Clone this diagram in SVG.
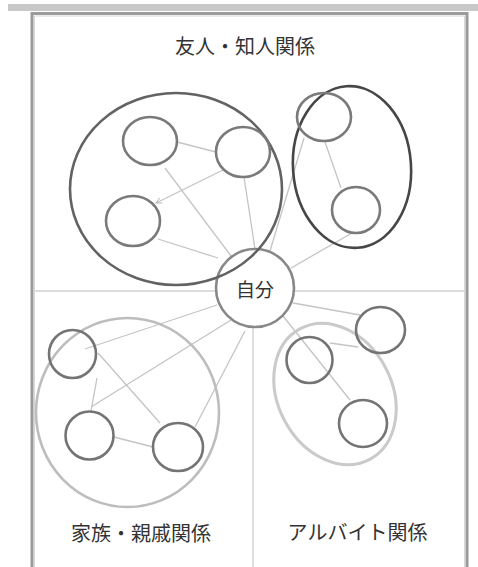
<svg xmlns="http://www.w3.org/2000/svg" width="478" height="567" viewBox="0 0 478 567">
<style>
.lbl{font-family:"Noto Sans CJK JP","Noto Sans",sans-serif;font-size:20px;fill:#333;text-anchor:middle;dominant-baseline:central}
.con{stroke:#c4c4c4;stroke-width:1.3;fill:none}
.div{stroke:#dcdcdc;stroke-width:1.8;fill:none}
.sm{fill:none;stroke:#7a7a7a;stroke-width:2.6}
.smd{fill:none;stroke:#747474;stroke-width:2.6}
</style>
<defs>
<marker id="arr" viewBox="0 0 10 10" refX="9" refY="5" markerWidth="7" markerHeight="7" orient="auto" markerUnits="userSpaceOnUse">
<path d="M1,1 L9,5 L1,9" fill="none" stroke="#b8b8b8" stroke-width="1.4"/>
</marker>
</defs>
<rect x="0" y="0" width="478" height="567" fill="#fff"/>
<rect x="8" y="4" width="470" height="7" fill="#c8c8c8"/>
<g id="frame">
<path d="M32,567 V13.5 H467 V567" fill="none" stroke="#9a9a9a" stroke-width="3"/>
<path d="M34.5,567 V16 H464.5 V567" fill="none" stroke="#d8d8d8" stroke-width="1"/>
</g>
<g id="dividers">
<line class="div" x1="34" y1="291" x2="465" y2="291"/>
<line class="div" x1="253" y1="291" x2="253" y2="567"/>
</g>
<g id="connectors">
<line class="con" x1="165" y1="168" x2="231" y2="256"/>
<line class="con" x1="177" y1="142" x2="216" y2="152"/>
<line class="con" x1="223" y1="170" x2="156" y2="203" marker-end="url(#arr)"/>
<line class="con" x1="244" y1="177" x2="255" y2="249"/>
<line class="con" x1="158" y1="239" x2="218" y2="258"/>
<line class="con" x1="304" y1="138" x2="270" y2="251"/>
<line class="con" x1="325" y1="142" x2="341" y2="188"/>
<line class="con" x1="352" y1="233" x2="291" y2="268"/>
<line class="con" x1="293" y1="303" x2="360" y2="315"/>
<line class="con" x1="330" y1="343" x2="358" y2="347"/>
<line class="con" x1="283" y1="316" x2="350" y2="400"/>
<line class="con" x1="85" y1="349" x2="217" y2="305"/>
<line class="con" x1="91" y1="407" x2="231" y2="320"/>
<line class="con" x1="195" y1="427" x2="245" y2="331"/>
<line class="con" x1="97" y1="378" x2="91" y2="411"/>
<line class="con" x1="98" y1="353" x2="160" y2="423"/>
<line class="con" x1="114" y1="437" x2="153" y2="447"/>
</g>
<g id="self">
<circle cx="255" cy="288" r="39" fill="#fff" stroke="#888" stroke-width="2.6"/>
<text class="lbl" x="255" y="288" style="font-size:19px">自分</text>
</g>
<g id="friends">
<ellipse cx="176" cy="189" rx="106" ry="96" fill="none" stroke="#626262" stroke-width="2.6"/>
<ellipse cx="352" cy="167" rx="59" ry="81" transform="rotate(-4 352 167)" fill="none" stroke="#464646" stroke-width="2.6"/>
<text class="lbl" x="245" y="45">友人・知人関係</text>
</g>
<g id="friendA"><ellipse class="sm" cx="150" cy="141" rx="27" ry="24"/></g>
<g id="friendB"><ellipse class="sm" cx="243" cy="152" rx="27" ry="25"/></g>
<g id="friendC"><ellipse class="sm" cx="133" cy="221" rx="27" ry="25"/></g>
<g id="friendD"><ellipse class="sm" cx="324" cy="117" rx="27" ry="24"/></g>
<g id="friendE"><ellipse class="sm" cx="356" cy="210" rx="24" ry="23"/></g>
<g id="family">
<ellipse cx="127.5" cy="412.5" rx="91.5" ry="94.5" fill="none" stroke="#bdbdbd" stroke-width="2.6"/>
<text class="lbl" x="141" y="532">家族・親戚関係</text>
</g>
<g id="familyF"><ellipse class="smd" cx="72.5" cy="354" rx="23.5" ry="24"/></g>
<g id="familyG"><ellipse class="smd" cx="89.5" cy="435.5" rx="24" ry="24"/></g>
<g id="familyH"><ellipse class="smd" cx="178" cy="447" rx="25" ry="24"/></g>
<g id="arbeit">
<ellipse cx="335" cy="394" rx="57" ry="74" transform="rotate(-28 335 394)" fill="none" stroke="#cacaca" stroke-width="3"/>
<text class="lbl" x="357.5" y="531">アルバイト関係</text>
</g>
<g id="arbeitI"><ellipse class="smd" cx="309.5" cy="360" rx="23" ry="23"/></g>
<g id="arbeitJ"><ellipse class="smd" cx="380.5" cy="330" rx="24.5" ry="23"/></g>
<g id="arbeitK"><ellipse class="smd" cx="363" cy="423.5" rx="24" ry="23.5"/></g>
</svg>
